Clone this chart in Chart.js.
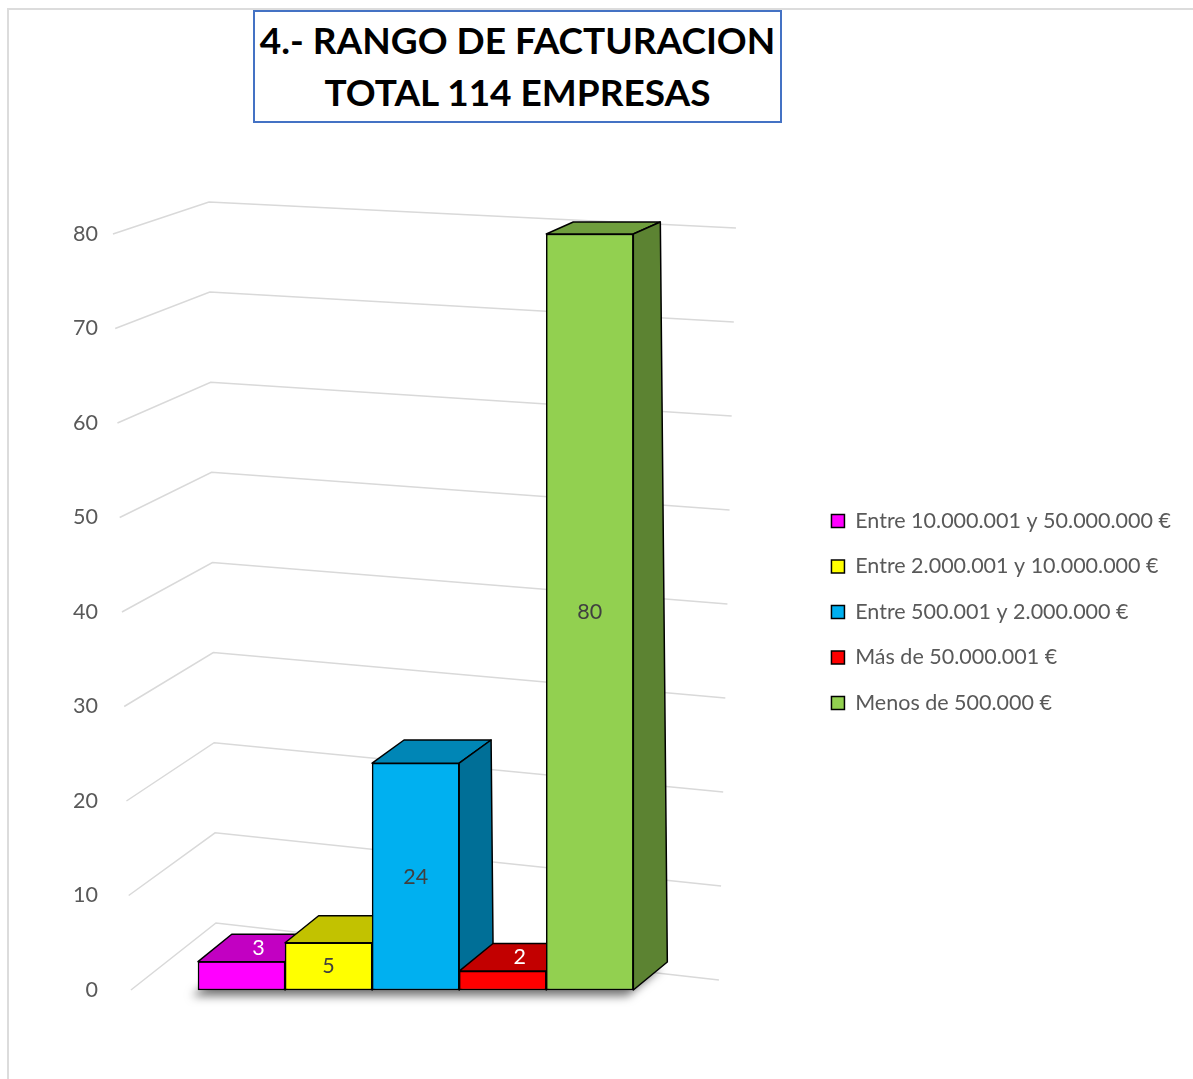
<!DOCTYPE html>
<html>
<head>
<meta charset="utf-8">
<title>Rango de facturación</title>
<script src="https://cdn.jsdelivr.net/npm/chart.js@4.4.1/dist/chart.umd.min.js"></script>
<style>
  html, body { margin: 0; padding: 0; background: #fff; }
  #wrap { position: relative; width: 1193px; height: 1079px; overflow: hidden; }
  #frame { position: absolute; left: 7px; top: 8px; width: 1220px; height: 1120px; border: 2px solid #dcdcdc; box-sizing: border-box; }
  #chart { position: absolute; left: 0; top: 0; }
  #title {
    position: absolute; left: 253px; top: 10px; width: 529px; height: 113px;
    border: 2px solid #4472c4; box-sizing: border-box; background: #fff;
    font: bold 37px Lato, sans-serif; color: #000; text-align: center;
    line-height: 52px; padding-top: 2px;
  }
</style>
</head>
<body>
<div id="wrap">
  <div id="frame"></div>
  <canvas id="chart" width="1193" height="1079"></canvas>
  <div id="title">4.- RANGO DE FACTURACION<br>TOTAL 114 EMPRESAS</div>
</div>
<script>
// chart data
const categories = [
  'Entre 10.000.001 y 50.000.000 €',
  'Entre 2.000.001 y 10.000.000 €',
  'Entre 500.001 y 2.000.000 €',
  'Más de 50.000.001 €',
  'Menos de 500.000 €'
];
const values = [3, 5, 24, 2, 80];
const yTicks = [0, 10, 20, 30, 40, 50, 60, 70, 80];

const barColors = ['#FF00FF', '#FFFF00', '#00B0F0', '#FF0000', '#92D050'];
const labelColors = ['#FFFFFF', '#404040', '#404040', '#FFFFFF', '#404040'];
const FONT = 'Lato, "Open Sans", sans-serif';
const FONT_SIZE = 21.5;

function shade(hex, f) {
  const n = parseInt(hex.slice(1), 16);
  const r = Math.round(((n >> 16) & 255) * f);
  const g = Math.round(((n >> 8) & 255) * f);
  const b = Math.round((n & 255) * f);
  return `rgb(${r}, ${g}, ${b})`;
}

// fake perspective: depth offset grows towards the floor
function depthAt(chart, y) {
  const a = chart.chartArea;
  const t = Math.max(0, Math.min(1, (y - a.top) / (a.bottom - a.top)));
  return { dx: 27 + 7 * t, dy: -(12 + 16 * t) };
}

function barBox(chart, i) {
  return chart.getDatasetMeta(i).data[0].getProps(['x', 'y', 'base', 'width'], true);
}

const wallGrid = {
  id: 'wallGrid',
  beforeDatasetsDraw(chart) {
    const { ctx, chartArea: a, scales: { y } } = chart;
    ctx.save();
    ctx.strokeStyle = '#d9d9d9';
    ctx.lineWidth = 1.5;
    y.ticks.forEach(tk => {
      const py = y.getPixelForValue(tk.value);
      const t = (py - a.top) / (a.bottom - a.top);
      ctx.beginPath();
      ctx.moveTo(a.left + 2 + 18 * t, py);
      ctx.lineTo(a.left + 98 + 7 * t, py - (32 + 35 * t));
      ctx.lineTo(a.left + 625 - 17 * t, py - 6 - 4 * t);
      ctx.stroke();
    });

    // soft floor shadow under the row of bars
    const first = barBox(chart, 0);
    const last = barBox(chart, categories.length - 1);
    const d = depthAt(chart, first.base);
    const xa = first.x - first.width / 2, xb = last.x + last.width / 2;
    ctx.shadowColor = 'rgba(0, 0, 0, 0.55)';
    ctx.shadowBlur = 10;
    ctx.shadowOffsetX = -6;
    ctx.shadowOffsetY = 6;
    ctx.fillStyle = '#fff';
    ctx.beginPath();
    ctx.moveTo(xa, first.base);
    ctx.lineTo(xb, first.base);
    ctx.lineTo(xb + d.dx, first.base + d.dy);
    ctx.lineTo(xa + d.dx, first.base + d.dy);
    ctx.closePath();
    ctx.fill();
    ctx.restore();
  }
};

const bars3d = {
  id: 'bars3d',
  afterDatasetDraw(chart, args) {
    const ctx = chart.ctx;
    const color = barColors[args.index];
    args.meta.data.forEach(bar => {
      const { x, y, base, width } = bar.getProps(['x', 'y', 'base', 'width'], true);
      const x0 = x - width / 2, x1 = x + width / 2;
      const dt = depthAt(chart, y), db = depthAt(chart, base);
      ctx.save();
      ctx.strokeStyle = '#000';
      ctx.lineWidth = 1.5;
      ctx.lineJoin = 'round';
      ctx.beginPath();
      ctx.moveTo(x0, y);
      ctx.lineTo(x1, y);
      ctx.lineTo(x1 + dt.dx, y + dt.dy);
      ctx.lineTo(x0 + dt.dx, y + dt.dy);
      ctx.closePath();
      ctx.fillStyle = shade(color, 0.76);
      ctx.fill();
      ctx.stroke();
      ctx.beginPath();
      ctx.moveTo(x1, y);
      ctx.lineTo(x1 + dt.dx, y + dt.dy);
      ctx.lineTo(x1 + db.dx, base + db.dy);
      ctx.lineTo(x1, base);
      ctx.closePath();
      ctx.fillStyle = shade(color, 0.63);
      ctx.fill();
      ctx.stroke();
      ctx.restore();
    });
  }
};

const barLabels = {
  id: 'barLabels',
  afterDatasetsDraw(chart) {
    const ctx = chart.ctx;
    ctx.save();
    ctx.font = FONT_SIZE + 'px ' + FONT;
    ctx.textAlign = 'center';
    ctx.textBaseline = 'middle';
    chart.data.datasets.forEach((ds, i) => {
      const { x, y, base } = barBox(chart, i);
      const d = depthAt(chart, y);
      let lx = x, ly = (y + base) / 2;
      if (base - y < 40) { lx = x + d.dx / 2; ly = y + d.dy / 2; }
      ctx.fillStyle = labelColors[i];
      ctx.fillText(String(values[i]), lx, ly);
    });
    ctx.restore();
  }
};

new Chart(document.getElementById('chart'), {
  type: 'bar',
  data: {
    datasets: categories.map((c, i) => ({
      label: c,
      data: [{ x: i, y: values[i] }],
      backgroundColor: barColors[i],
      borderColor: '#000',
      borderWidth: 1.5,
      borderSkipped: false,
      grouped: false,
      barPercentage: 1,
      categoryPercentage: 1,
      clip: false,
      order: categories.length - i
    }))
  },
  options: {
    responsive: false,
    animation: false,
    layout: { padding: { top: 234, bottom: 89, left: 60, right: 12 } },
    scales: {
      x: {
        type: 'linear',
        offset: false,
        min: -1.5,
        max: 6.5,
        display: false,
        afterBuildTicks: axis => { axis.ticks = categories.map((c, i) => ({ value: i })); }
      },
      y: {
        min: 0,
        max: 80,
        afterBuildTicks: axis => { axis.ticks = yTicks.map(v => ({ value: v })); },
        grid: { display: false, drawTicks: false },
        border: { display: false },
        ticks: { color: '#595959', padding: 13, font: { family: FONT, size: FONT_SIZE } }
      }
    },
    plugins: {
      legend: {
        position: 'right',
        reverse: true,
        maxWidth: 420,
        labels: {
          color: '#595959',
          boxWidth: 13,
          boxHeight: 13,
          padding: 24,
          font: { family: FONT, size: FONT_SIZE }
        }
      },
      tooltip: { enabled: false }
    }
  },
  plugins: [wallGrid, bars3d, barLabels]
});
</script>
</body>
</html>
